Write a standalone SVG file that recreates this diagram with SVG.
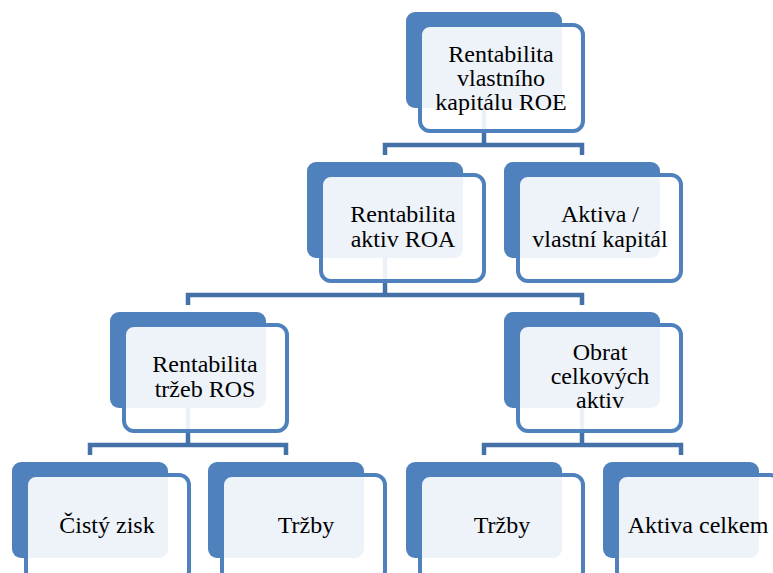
<svg xmlns="http://www.w3.org/2000/svg" width="773" height="573" viewBox="0 0 773 573">
<style>
.back{fill:#4F81BD;}
.front{fill:#FFFFFF;fill-opacity:0.9;stroke:#4F81BD;stroke-width:4;}
.conn{fill:none;stroke:#4472A8;stroke-width:4.5;stroke-linejoin:miter;}
text{font-family:"Liberation Serif","Times New Roman",serif;font-size:24px;fill:#000;text-anchor:middle;}
</style>
<rect width="773" height="573" fill="#FFFFFF"/>
<g id="connectors">
<path class="conn" d="M484 108 V145 M385 155 V145 H582 V155"/>
<path class="conn" d="M385 258 V295 M188 305 V295 H582 V305"/>
<path class="conn" d="M188 408 V445 M90 455 V445 H286 V455"/>
<path class="conn" d="M582 408 V445 M484 455 V445 H681 V455"/>
</g>
<g id="roe">
<rect class="back" x="406" y="12" width="156" height="96" rx="9"/>
<rect class="front" x="420" y="25" width="163" height="106" rx="10"/>
<text x="501" y="62">Rentabilita</text>
<text x="501" y="86">vlastního</text>
<text x="501" y="110">kapitálu ROE</text>
</g>
<g id="roa">
<rect class="back" x="307" y="162" width="156" height="96" rx="9"/>
<rect class="front" x="321" y="175" width="163" height="106" rx="10"/>
<text x="403" y="222">Rentabilita</text>
<text x="403" y="247">aktiv ROA</text>
</g>
<g id="aktiva-vk">
<rect class="back" x="504" y="162" width="156" height="96" rx="9"/>
<rect class="front" x="518" y="175" width="163" height="106" rx="10"/>
<text x="600" y="222">Aktiva /</text>
<text x="600" y="247">vlastní kapitál</text>
</g>
<g id="ros">
<rect class="back" x="110" y="312" width="156" height="96" rx="9"/>
<rect class="front" x="124" y="325" width="163" height="106" rx="10"/>
<text x="205" y="372">Rentabilita</text>
<text x="205" y="397">tržeb ROS</text>
</g>
<g id="obrat">
<rect class="back" x="504" y="312" width="156" height="96" rx="9"/>
<rect class="front" x="518" y="325" width="163" height="106" rx="10"/>
<text x="600" y="360">Obrat</text>
<text x="600" y="384">celkových</text>
<text x="600" y="408">aktiv</text>
</g>
<g id="cisty-zisk">
<rect class="back" x="12" y="462" width="156" height="96" rx="9"/>
<rect class="front" x="26" y="475" width="163" height="106" rx="10"/>
<text x="107" y="533">Čistý zisk</text>
</g>
<g id="trzby1">
<rect class="back" x="208" y="462" width="156" height="96" rx="9"/>
<rect class="front" x="222" y="475" width="163" height="106" rx="10"/>
<text x="306" y="533">Tržby</text>
</g>
<g id="trzby2">
<rect class="back" x="406" y="462" width="156" height="96" rx="9"/>
<rect class="front" x="420" y="475" width="163" height="106" rx="10"/>
<text x="502" y="533">Tržby</text>
</g>
<g id="aktiva-celkem">
<rect class="back" x="603" y="462" width="156" height="96" rx="9"/>
<rect class="front" x="617" y="475" width="163" height="106" rx="10"/>
<text x="698" y="533">Aktiva celkem</text>
</g>
</svg>
